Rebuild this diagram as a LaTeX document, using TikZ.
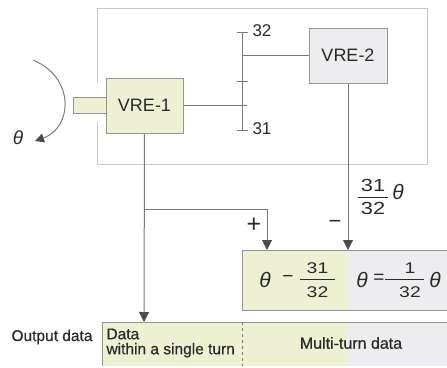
\documentclass[tikz,border=0pt]{standalone}
\usepackage{fontspec}
\setmainfont{Liberation Sans}
\newfontfamily\wide[FakeStretch=1.25]{Liberation Sans}
\newfontfamily\boldish[FakeBold=0.6]{Liberation Sans}
\newfontfamily\thfont{Liberation Sans Italic}
\usetikzlibrary{arrows.meta}
\definecolor{ylw}{HTML}{EEF0D4}
\definecolor{lgr}{HTML}{EDEDEF}
\definecolor{ln}{HTML}{7A7A7A}
\definecolor{frm}{HTML}{C8C8C8}
\definecolor{txt}{HTML}{2A2A2A}
\begin{document}
\begin{tikzpicture}[x=1pt,y=-1pt,
  line width=1pt,
  conn/.style={draw=ln},
  arr/.style={draw=ln,-{Triangle[length=10pt,width=10pt,fill=black!70,color=black!70]}},
  box/.style={draw=ln!80,line width=1pt,inner sep=0pt,text=txt,font=\fontsize{18}{20}\selectfont},
  lbl/.style={text=txt,inner sep=0pt,font=\fontsize{17}{20}\selectfont},
  dig/.style={text=txt,inner sep=0pt,font=\wide\fontsize{15.5}{17}\selectfont},
  bigdig/.style={text=txt,inner sep=0pt,font=\wide\fontsize{17.5}{19}\selectfont},
  th/.style={text=txt,inner sep=0pt,font=\thfont\fontsize{21}{22}\selectfont},
  fbar/.style={draw=txt,line width=0.8pt},
  small/.style={text=txt,inner sep=0pt,font=\boldish\fontsize{15.5}{17}\selectfont}
]
\useasboundingbox (0,0) rectangle (447,367);
% outer frame
\draw[frm,line width=1pt] (97,83) -- (97,8) -- (427,8) -- (427,164) -- (97,164) -- (97,122);
% boxes
\node[box,fill=ylw,minimum width=33pt,minimum height=16pt] (shaft) at (89.5,105) {};
\node[box,fill=ylw,minimum width=77pt,minimum height=55pt] (vre1) at (144.5,105.5) {VRE-1};
\node[box,fill=lgr,minimum width=78pt,minimum height=55pt] (vre2) at (348,55.5) {VRE-2};
% scale
\coordinate (s32) at (242,32);
\coordinate (s31) at (242,130);
\coordinate (s1) at (247,105.5);
\draw[conn] (s32) -- (s31);
\draw[conn] (237,32) -- (248,32);
\draw[conn] (237,81) -- (248,81);
\draw[conn] (237,130) -- (248,130);
\node[lbl,anchor=west] (l32) at (252,31) {32};
\node[lbl,anchor=west] (l31) at (252,129) {31};
\draw[conn] (vre2.west) -- (vre2.west -| s32);
\draw[conn] (vre1.east) -- (s1);
% rotation
\draw[ln,line width=1pt,-{Triangle[length=9pt,width=9pt,fill=black!70,color=black!70]}] (33,60) .. controls (76,78) and (72,128) .. (35,141);
\node[th,font=\thfont\fontsize{19}{20}\selectfont] (th) at (18,138) {θ};
% formula box
\fill[ylw] (242,250) rectangle (348,310);
\fill[lgr] (348,250) rectangle (449,310);
\draw[draw=ln!80,line width=1pt] (449,250) -- (242,250) -- (242,310) -- (449,310);
\coordinate (fin1) at (267,250);
\coordinate (fin2) at (348,250);
\node[th] (t1) at (265,280) {θ};
\node[lbl,font=\fontsize{19}{20}\selectfont] (m1) at (288,279) {−};
\draw[fbar] (300,279) -- (335,279);
\node[dig] (n1) at (317.5,268) {31};
\node[dig] (d1) at (317.5,292) {32};
\node[th] (t2) at (362,280) {θ};
\node[lbl,font=\fontsize{19}{20}\selectfont] (eq) at (379,279) {=};
\draw[fbar] (385,279) -- (424,279);
\node[dig] (n2) at (410,268) {1};
\node[dig] (d2) at (410,292) {32};
\node[th] (t3) at (435,280) {θ};
% output bar
\fill[ylw] (102,322) rectangle (347,366);
\fill[lgr] (347,322) rectangle (449,366);
\draw[draw=ln!80,line width=1pt] (449,322) -- (102,322) -- (102,366);
\draw[ln,dashed,line width=0.9pt] (242,322) -- (242,366);
\coordinate (outin) at (144,322);
\node[small,anchor=east,font=\boldish\fontsize{15.5}{18}\selectfont] (od) at (93,337) {Output data};
\node[small,anchor=west,align=left] (dd) at (106,343) {Data\\[-2pt]within a single turn};
\node[small,font=\boldish\fontsize{16}{18}\selectfont] (mt) at (351,343) {Multi-turn data};
% connectors
\coordinate (br) at (144,209);
\draw[arr] (vre1.south) -- (outin);
\draw[arr] (br) -| (fin1);
\draw[arr] (vre2.south) -- (fin2);
\node[lbl,font=\fontsize{25}{26}\selectfont] (plus) at (254,225) {+};
\node[lbl,font=\fontsize{22}{24}\selectfont] (minus) at (335,224) {−};
\draw[fbar] (358,197) -- (388,197);
\node[bigdig] (fn) at (373,185) {31};
\node[bigdig] (fd) at (373,208) {32};
\node[th] (ft) at (398,192) {θ};
\end{tikzpicture}
\end{document}
